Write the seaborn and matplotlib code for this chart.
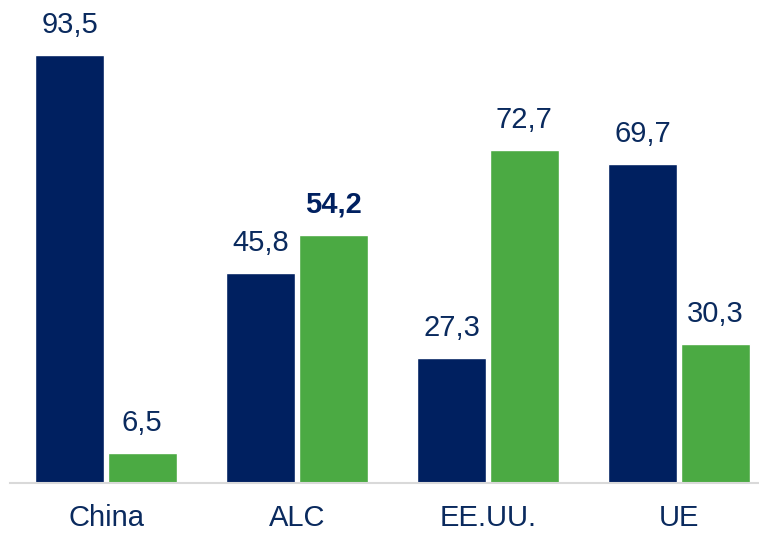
import numpy as np
import pandas as pd
from matplotlib import pyplot as plt
import seaborn as sns

categorias = ['China', 'ALC', 'EE.UU.', 'UE']
serie_a = [93.5, 45.8, 27.3, 69.7]
serie_b = [6.5, 54.2, 72.7, 30.3]
navy = '#002060'
green = '#4BAA43'

df = pd.DataFrame({
    'pais': categorias * 2,
    'valor': serie_a + serie_b,
    'serie': ['a'] * 4 + ['b'] * 4,
})

sns.set_style('white')
plt.rcParams['font.family'] = ['Liberation Sans', 'DejaVu Sans']

fig = plt.figure(figsize=(7.59, 5.33), dpi=100)
ax = fig.add_axes([10 / 759, 50 / 533, 749 / 759, 483 / 533])

sns.barplot(data=df, x='pais', y='valor', hue='serie', order=categorias,
            palette=[navy, green], width=0.76, gap=0.05, ax=ax,
            legend=False, saturation=1)

# etiquetas de valor (coma decimal)
for cont in ax.containers:
    for bar in cont:
        h = bar.get_height()
        txt = ('%.1f' % h).replace('.', ',')
        bold = abs(h - 54.2) < 1e-6
        ax.annotate(txt, (bar.get_x() + bar.get_width() / 2, h),
                    xytext=(0, 16), textcoords='offset points',
                    ha='center', va='baseline', fontsize=21,
                    color='#0a2a5e' if not bold else '#002060',
                    fontweight='bold' if bold else 'normal')

ax.set_xlim(-0.503, 3.42)
ax.set_ylim(0, 105.5)
ax.set_xlabel('')
ax.set_ylabel('')
ax.set_yticks([])
for s in ['top', 'right', 'left']:
    ax.spines[s].set_visible(False)
ax.spines['bottom'].set_color('#d9d9d9')
ax.spines['bottom'].set_linewidth(1.5)
ax.tick_params(axis='x', length=0, pad=15, labelsize=21, labelcolor='#0a2a5e')

fig.savefig('out.png', dpi=100)
